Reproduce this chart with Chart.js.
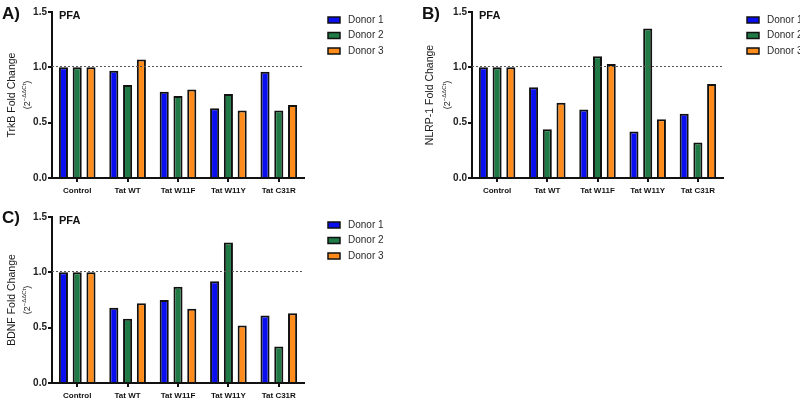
<!DOCTYPE html>
<html>
<head>
<meta charset="utf-8">
<script src="https://cdn.jsdelivr.net/npm/chart.js@4"></script>
<style>
  html, body { margin: 0; padding: 0; background: #fff; }
  body { width: 800px; height: 401px; position: relative; overflow: hidden; }
  canvas { position: absolute; }
</style>
</head>
<body>
<canvas id="chartA" width="400" height="200" style="left:0;top:0"></canvas>
<canvas id="chartB" width="400" height="200" style="left:400px;top:0"></canvas>
<canvas id="chartC" width="400" height="201" style="left:0;top:200px"></canvas>
<script>
// data
const categories = ['Control', 'Tat WT', 'Tat W11F', 'Tat W11Y', 'Tat C31R'];
const donorNames = ['Donor 1', 'Donor 2', 'Donor 3'];
const yTicks = [0, 0.5, 1.0, 1.5];

const trkbDonor1 = [1.0, 0.97, 0.78, 0.63, 0.96];
const trkbDonor2 = [1.0, 0.84, 0.74, 0.76, 0.61];
const trkbDonor3 = [1.0, 1.07, 0.80, 0.61, 0.66];

const nlrpDonor1 = [1.0, 0.82, 0.62, 0.42, 0.58];
const nlrpDonor2 = [1.0, 0.44, 1.10, 1.35, 0.32];
const nlrpDonor3 = [1.0, 0.68, 1.03, 0.53, 0.85];

const bdnfDonor1 = [1.0, 0.68, 0.75, 0.92, 0.61];
const bdnfDonor2 = [1.0, 0.58, 0.87, 1.27, 0.33];
const bdnfDonor3 = [1.0, 0.72, 0.67, 0.52, 0.63];

const refLine = 1.01;

const colors = ['#0a0ff0', '#1f7a45', '#ff8c1a'];
const FONT = '"Liberation Sans", Arial, sans-serif';

// draws panel letter, PFA tag, y title with superscript, dashed line and legend
const decor = {
  id: 'decor',
  afterDatasetsDraw(chart, args, o) {
    const ctx = chart.ctx;
    const a = chart.chartArea;
    const y = chart.scales.y;

    // dashed reference line
    const yy = Math.round(y.getPixelForValue(refLine)) + 0.5;
    ctx.save();
    ctx.strokeStyle = '#555';
    ctx.lineWidth = 1;
    ctx.setLineDash([2, 2]);
    ctx.beginPath();
    ctx.moveTo(a.left, yy);
    ctx.lineTo(a.right, yy);
    ctx.stroke();
    ctx.restore();

    ctx.save();
    ctx.fillStyle = '#111';
    ctx.textBaseline = 'alphabetic';
    ctx.font = 'bold 17px ' + FONT;
    ctx.fillText(o.letter, o.letterX, o.letterY);
    ctx.font = 'bold 11px ' + FONT;
    ctx.textBaseline = 'middle';
    ctx.fillText('PFA', a.left + 7, a.top + 4);

    // y title
    const cy = (a.top + a.bottom) / 2;
    ctx.fillStyle = '#1a1a1a';
    ctx.translate(0, cy);
    ctx.rotate(-Math.PI / 2);
    ctx.textAlign = 'center';
    ctx.font = '10.5px ' + FONT;
    ctx.fillText(o.title, 0, o.titleX1);
    ctx.textAlign = 'left';
    const base = '9px ' + FONT, sup = '6px ' + FONT;
    ctx.font = base;
    const w1 = ctx.measureText('(2').width, w3 = ctx.measureText(')').width;
    ctx.font = sup;
    const w2 = ctx.measureText('\u2212\u0394\u0394Ct').width;
    let x = -(w1 + w2 + w3) / 2;
    ctx.font = base;
    ctx.fillText('(2', x, o.titleX2 + 1);
    x += w1;
    ctx.font = sup;
    ctx.fillText('\u2212\u0394\u0394Ct', x, o.titleX2 - 3);
    x += w2;
    ctx.font = base;
    ctx.fillText(')', x, o.titleX2 + 1);
    ctx.restore();

    // legend
    ctx.save();
    const lx = a.right + 24, ly = a.top + 8;
    chart.data.datasets.forEach((ds, i) => {
      const ry = ly + i * 15.5;
      ctx.fillStyle = ds.backgroundColor;
      ctx.strokeStyle = '#111';
      ctx.lineWidth = 1.5;
      ctx.fillRect(lx, ry - 3, 12, 6);
      ctx.strokeRect(lx, ry - 3, 12, 6);
      ctx.fillStyle = '#2a2a2a';
      ctx.font = '10px ' + FONT;
      ctx.textBaseline = 'middle';
      ctx.fillText(ds.label, lx + 20, ry);
    });
    ctx.restore();
  }
};

function makeChart(id, series, p) {
  return new Chart(document.getElementById(id), {
    type: 'bar',
    data: {
      labels: categories,
      datasets: series.map((d, i) => ({
        label: donorNames[i],
        data: d,
        backgroundColor: colors[i],
        borderColor: '#111',
        borderWidth: 2,
        categoryPercentage: 0.82,
        barPercentage: 0.66
      }))
    },
    options: {
      responsive: false,
      devicePixelRatio: 1,
      animation: false,
      layout: { padding: { left: 0, top: p.top, right: p.right, bottom: 0 } },
      plugins: {
        legend: { display: false },
        tooltip: { enabled: false },
        decor: p
      },
      scales: {
        x: {
          grid: { offset: false, drawOnChartArea: false, tickLength: 4, color: '#111', lineWidth: 2 },
          border: { color: '#111', width: 2 },
          ticks: { font: { family: FONT, size: 8, weight: 'bold' }, color: '#111', padding: 4, maxRotation: 0 },
          afterFit: s => { s.height = p.xh; }
        },
        y: {
          min: 0,
          max: 1.5,
          afterBuildTicks: s => { s.ticks = yTicks.map(v => ({ value: v })); },
          grid: { drawOnChartArea: false, tickLength: 4, color: '#111', lineWidth: 2 },
          border: { color: '#111', width: 2 },
          ticks: {
            font: { family: FONT, size: 10, weight: 'bold' }, color: '#222', padding: 1,
            callback: v => v.toFixed(1)
          },
          afterFit: s => { s.width = p.yw; }
        }
      }
    },
    plugins: [decor]
  });
}

makeChart('chartA', [trkbDonor1, trkbDonor2, trkbDonor3], {
  top: 12, right: 96, yw: 52, xh: 22,
  letter: 'A)', letterX: 2, letterY: 19,
  title: 'TrkB Fold Change', titleX1: 12, titleX2: 27
});
makeChart('chartB', [nlrpDonor1, nlrpDonor2, nlrpDonor3], {
  top: 12, right: 77, yw: 72, xh: 22,
  letter: 'B)', letterX: 22, letterY: 19,
  title: 'NLRP-1 Fold Change', titleX1: 30, titleX2: 47
});
makeChart('chartC', [bdnfDonor1, bdnfDonor2, bdnfDonor3], {
  top: 17, right: 96, yw: 52, xh: 18,
  letter: 'C)', letterX: 2, letterY: 23,
  title: 'BDNF Fold Change', titleX1: 12, titleX2: 27
});
</script>
</body>
</html>
